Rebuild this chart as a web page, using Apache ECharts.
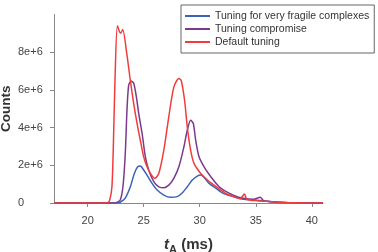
<!DOCTYPE html>
<html>
<head>
<meta charset="utf-8">
<script src="https://cdn.jsdelivr.net/npm/echarts@6/dist/echarts.min.js"></script>
<style>
  html, body { margin: 0; padding: 0; background: #fff; }
  #chart { width: 378px; height: 252px; }
</style>
</head>
<body>
<div id="chart"></div>
<script>
// arrival time t_A (ms) vs counts
const seriesNames = ['Tuning for very fragile complexes', 'Tuning compromise', 'Default tuning']
const xTicks = [20, 25, 30, 35, 40]

const fragileT = [17, 22.6, 22.9, 23.36, 23.81, 24.17, 24.47, 24.7, 25.0, 25.3, 25.75, 26.2, 26.8, 27.39, 27.99, 28.44, 28.89, 29.34, 29.79, 30.09, 30.39, 30.84, 31.43, 32.1, 33.0, 33.9, 34.8, 35.6, 36.6, 37.5, 41]
const fragileV = [0, 0, 0.04e6, 0.26e6, 0.86e6, 1.57e6, 1.92e6, 1.96e6, 1.75e6, 1.48e6, 1.04e6, 0.69e6, 0.42e6, 0.3e6, 0.34e6, 0.53e6, 0.86e6, 1.22e6, 1.43e6, 1.48e6, 1.36e6, 1.04e6, 0.79e6, 0.51e6, 0.34e6, 0.2e6, 0.16e6, 0.12e6, 0.05e6, 0.02e6, 0]

const compT = [17, 22.3, 22.6, 22.91, 23.15, 23.36, 23.51, 23.66, 23.87, 24.11, 24.35, 24.56, 24.86, 25.15, 25.45, 25.9, 26.35, 26.8, 27.24, 27.69, 28.14, 28.59, 28.89, 29.19, 29.43, 29.64, 29.94, 30.39, 30.99, 31.73, 32.1, 33.0, 33.9, 34.8, 35.4, 35.7, 36.6, 37.8, 41]
const compV = [0, 0, 0.03e6, 0.16e6, 0.86e6, 2.63e6, 4.92e6, 6.24e6, 6.47e6, 6.35e6, 5.63e6, 4.74e6, 3.69e6, 2.45e6, 1.75e6, 1.13e6, 0.86e6, 0.81e6, 0.95e6, 1.31e6, 1.92e6, 2.98e6, 3.86e6, 4.39e6, 4.22e6, 3.33e6, 2.45e6, 1.92e6, 1.39e6, 0.86e6, 0.7e6, 0.42e6, 0.25e6, 0.2e6, 0.3e6, 0.12e6, 0.06e6, 0.02e6, 0]

const defaultT = [17, 21.7, 21.95, 22.17, 22.3, 22.45, 22.66, 22.95, 23.13, 23.5, 23.81, 24.11, 24.41, 24.7, 25.0, 25.3, 25.6, 25.99, 26.35, 26.8, 27.24, 27.69, 28.14, 28.35, 28.65, 28.89, 29.19, 29.49, 30.09, 30.69, 31.28, 31.88, 32.5, 33.0, 33.6, 34.0, 34.2, 35.1, 36.0, 37.5, 41]
const defaultV = [0, 0, 0.12e6, 0.86e6, 3.16e6, 6.68e6, 9.4e6, 9.0e6, 9.2e6, 7.9e6, 6.5e6, 5.27e6, 4.22e6, 3.33e6, 2.45e6, 1.92e6, 1.57e6, 1.31e6, 1.57e6, 2.8e6, 4.57e6, 6.15e6, 6.6e6, 6.5e6, 5.45e6, 4.04e6, 2.8e6, 2.1e6, 1.57e6, 1.22e6, 0.95e6, 0.69e6, 0.45e6, 0.34e6, 0.23e6, 0.48e6, 0.2e6, 0.12e6, 0.09e6, 0.03e6, 0]

const colors = ['#3b63b8', '#7b3a8c', '#f23c3c']

function pairs(xs, ys) {
  return xs.map((x, i) => [x, ys[i]])
}

const chart = echarts.init(document.getElementById('chart'))
chart.setOption({
  animation: false,
  color: colors,
  grid: { left: 54, right: 55, top: 14.5, bottom: 49, outerBoundsMode: 'none' },
  legend: {
    data: seriesNames,
    orient: 'vertical',
    left: 181,
    top: 5,
    padding: [4.5, 5, 4.5, 4],
    itemGap: 0,
    itemWidth: 25,
    itemHeight: 2,
    icon: 'rect',
    borderColor: '#666',
    borderWidth: 1,
    textStyle: { fontFamily: 'Liberation Sans', fontSize: 10.5, color: '#333', lineHeight: 13 },
  },
  xAxis: {
    type: 'value',
    min: 17,
    max: 41,
    name: '{t|t}{s|A}{n| (ms)}',
    nameLocation: 'middle',
    nameGap: 34,
    nameMoveOverlap: false,
    nameTextStyle: {
      rich: {
        t: { fontFamily: 'Liberation Sans', fontSize: 15, fontWeight: 'bold', fontStyle: 'italic', color: '#333', lineHeight: 18, verticalAlign: 'top' },
        s: { fontFamily: 'Liberation Sans', fontSize: 11, fontWeight: 'bold', color: '#333', lineHeight: 18, verticalAlign: 'bottom', padding: [8, 0, 0, 0] },
        n: { fontFamily: 'Liberation Sans', fontSize: 15, fontWeight: 'bold', color: '#333', lineHeight: 18, verticalAlign: 'top' },
      },
    },
    splitLine: { show: false },
    axisLine: { onZero: false, lineStyle: { color: '#888', width: 1 } },
    axisTick: { customValues: xTicks, length: 4, lineStyle: { color: '#888' } },
    axisLabel: { customValues: xTicks, fontFamily: 'Liberation Sans', fontSize: 11, color: '#444', margin: 12 },
  },
  yAxis: {
    type: 'value',
    min: 0,
    max: 1e7,
    interval: 2e6,
    name: 'Counts',
    nameLocation: 'middle',
    nameGap: 41,
    nameMoveOverlap: false,
    nameTextStyle: { fontFamily: 'Liberation Sans', fontSize: 13.5, fontWeight: 'bold', color: '#333' },
    splitLine: { show: false },
    axisLine: { show: true, lineStyle: { color: '#888', width: 1 } },
    axisTick: { show: true, length: 4, lineStyle: { color: '#888' } },
    axisLabel: {
      showMaxLabel: false,
      fontFamily: 'Liberation Sans',
      fontSize: 11,
      color: '#444',
      align: 'left',
      margin: 36,
      formatter: (v) => (v === 0 ? '0' : v / 1e6 + 'e+6'),
    },
  },
  series: [
    { name: seriesNames[0], type: 'line', data: pairs(fragileT, fragileV), showSymbol: false, smooth: 0.25, lineStyle: { width: 1.5 } },
    { name: seriesNames[1], type: 'line', data: pairs(compT, compV), showSymbol: false, smooth: 0.25, lineStyle: { width: 1.5 } },
    { name: seriesNames[2], type: 'line', data: pairs(defaultT, defaultV), showSymbol: false, smooth: 0.25, lineStyle: { width: 1.5 } },
  ],
})
</script>
</body>
</html>
